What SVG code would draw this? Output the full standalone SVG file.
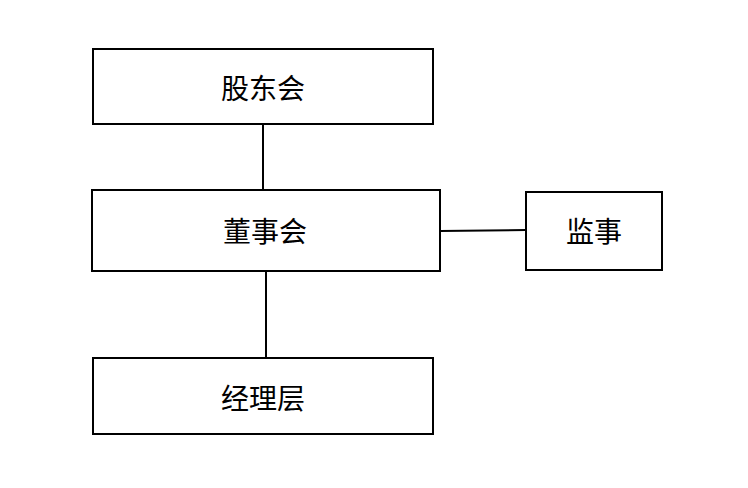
<svg xmlns="http://www.w3.org/2000/svg" width="748" height="488" viewBox="0 0 748 488">
<style>
.box{fill:#fff;stroke:#000;stroke-width:2}
.lbl{font-family:"Noto Sans CJK SC","Noto Sans",sans-serif;font-size:28px;fill:#000;text-anchor:middle;dominant-baseline:central}
.con{stroke:#000;stroke-width:2;fill:none}
</style>
<rect width="748" height="488" fill="#fff"/>
<g id="connectors">
<line class="con" x1="263" y1="124" x2="263" y2="190"/>
<line class="con" x1="266" y1="271" x2="266" y2="358"/>
<line class="con" x1="440" y1="231" x2="526" y2="230"/>
</g>
<g id="gudonghui"><rect class="box" x="93" y="49" width="340" height="75"/><text class="lbl" x="263" y="87">股东会</text></g>
<g id="dongshihui"><rect class="box" x="92" y="190" width="348" height="81"/><text class="lbl" x="265" y="230">董事会</text></g>
<g id="jianshi"><rect class="box" x="526" y="192" width="136" height="78"/><text class="lbl" x="594" y="230">监事</text></g>
<g id="jinglichen"><rect class="box" x="93" y="358" width="340" height="76"/><text class="lbl" x="263" y="397">经理层</text></g>
</svg>
